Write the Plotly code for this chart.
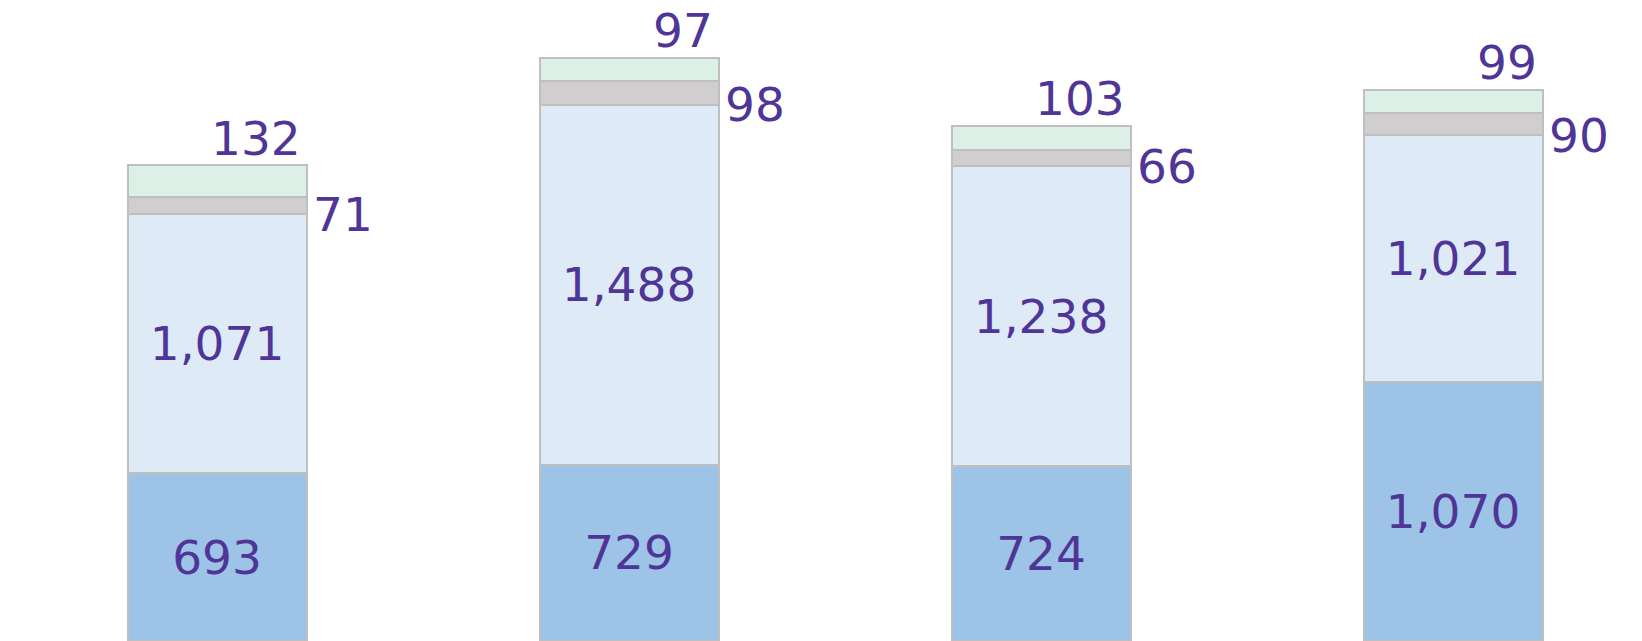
import plotly.graph_objects as go

categories = [0, 1, 2, 3]
series_a = [693, 729, 724, 1070]       # bottom, mid blue
series_b = [1071, 1488, 1238, 1021]    # light blue
series_c = [71, 98, 66, 90]            # gray
series_d = [132, 97, 103, 99]          # mint

colors = ["#9DC3E6", "#DEEAF6", "#D0CECE", "#DDF0E8"]
txt_color = "#4F3597"
font_family = "DejaVu Sans, Verdana, sans-serif"
fsize = 47
bar_w = 0.4345

fig = go.Figure()
for vals, col, show in [(series_a, colors[0], True), (series_b, colors[1], True),
                        (series_c, colors[2], False), (series_d, colors[3], False)]:
    fig.add_trace(go.Bar(
        x=categories, y=vals, width=bar_w,
        marker=dict(color=col, line=dict(color="#BFBFBF", width=2)),
        text=[f"{v:,}" for v in vals] if show else None,
        texttemplate="%{text}" if show else None,
        textposition="inside" if show else "none",
        insidetextanchor="middle",
        textfont=dict(family=font_family, size=fsize, color=txt_color),
        showlegend=False, hoverinfo="skip",
    ))

annotations = []
for i in range(len(categories)):
    cum2 = series_a[i] + series_b[i]
    total = cum2 + series_c[i] + series_d[i]
    annotations.append(dict(
        x=categories[i] + bar_w / 2, y=cum2, xref="x", yref="y",
        text=f"{series_c[i]:,}", showarrow=False, xanchor="left", yanchor="middle",
        xshift=4, font=dict(family=font_family, size=fsize, color=txt_color)))
    annotations.append(dict(
        x=categories[i] + bar_w / 2, y=total, xref="x", yref="y",
        text=f"{series_d[i]:,}", showarrow=False, xanchor="right", yanchor="middle",
        xshift=-4, yshift=27, font=dict(family=font_family, size=fsize, color=txt_color)))

fig.update_layout(
    barmode="stack",
    width=1634, height=633,
    margin=dict(l=0, r=0, t=0, b=0),
    paper_bgcolor="white", plot_bgcolor="white",
    xaxis=dict(range=[-0.5073, 3.4587], visible=False, fixedrange=True),
    yaxis=dict(range=[0, 2617], visible=False, fixedrange=True),
    annotations=annotations,
)

fig.write_html("out.html")
